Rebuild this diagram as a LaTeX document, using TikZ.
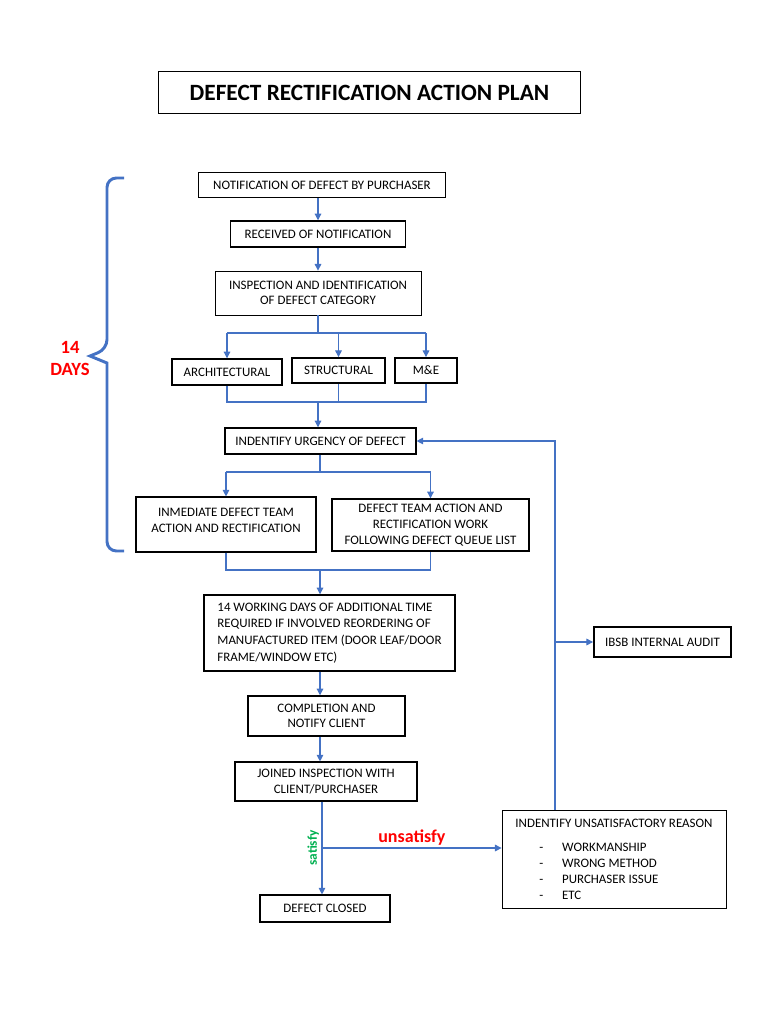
\documentclass[tikz,border=0pt]{standalone}
\usepackage{fontspec}
\setmainfont{Carlito}
\usetikzlibrary{arrows.meta}
\definecolor{flowblue}{HTML}{4472C4}
\definecolor{daysred}{HTML}{FF0000}
\definecolor{satgreen}{HTML}{00B050}
\begin{document}
\begin{tikzpicture}[x=0.75pt,y=-0.75pt]
	\tikzset{box/.style={shape=rectangle,draw=black,line width=0.6pt,inner sep=2pt,align=center,font=\fontsize{9.7}{12}\selectfont},
		thickbox/.style={box,line width=1.1pt},
		line/.style={draw=flowblue,line width=0.8pt},
		arr/.style={line,-{Triangle[width=5pt,length=5pt]}}}
	\useasboundingbox (0,0) rectangle (768,1024);
	
	\node[box,minimum width=317pt,minimum height=32pt,font=\fontsize{17.5}{20}\selectfont\bfseries] (title) at (369.5,92.5) {DEFECT RECTIFICATION ACTION PLAN};
	
	\node[box,minimum width=185pt,minimum height=19pt] (notif) at (322,185) {NOTIFICATION OF DEFECT BY PURCHASER};
	\node[thickbox,minimum width=131pt,minimum height=19.5pt] (recv) at (318,234) {RECEIVED OF NOTIFICATION};
	\node[box,minimum width=154.5pt,minimum height=33pt,font=\fontsize{9.7}{11.3}\selectfont] (insp) at (318,293) {INSPECTION AND IDENTIFICATION\\OF DEFECT CATEGORY};
	\node[thickbox,minimum width=82.5pt,minimum height=19.5pt] (arch) at (227,372) {ARCHITECTURAL};
	\node[thickbox,minimum width=70pt,minimum height=19pt] (struct) at (338.5,370.5) {STRUCTURAL};
	\node[thickbox,minimum width=46.5pt,minimum height=19pt] (mne) at (426,370.5) {M\&E};
	\node[thickbox,minimum width=143pt,minimum height=19.5pt] (urg) at (320.5,441) {INDENTIFY URGENCY OF DEFECT};
	\node[thickbox,minimum width=135pt,minimum height=41pt] (imm) at (226,524.5) {INMEDIATE DEFECT TEAM\\ACTION AND RECTIFICATION\\[-6pt]};
	\node[thickbox,minimum width=148pt,minimum height=39pt] (team) at (430.5,525) {DEFECT TEAM ACTION AND\\RECTIFICATION WORK\\FOLLOWING DEFECT QUEUE LIST};
	\node[thickbox,minimum width=188pt,minimum height=57pt,align=left,font=\fontsize{9.7}{12.6}\selectfont] (work) at (329.5,633) {14 WORKING DAYS OF ADDITIONAL TIME\\REQUIRED IF INVOLVED REORDERING OF\\MANUFACTURED ITEM (DOOR LEAF/DOOR\\FRAME/WINDOW ETC)};
	\node[thickbox,minimum width=118pt,minimum height=30pt,font=\fontsize{9.7}{11.3}\selectfont] (comp) at (326.5,716) {COMPLETION AND\\NOTIFY CLIENT};
	\node[thickbox,minimum width=136.5pt,minimum height=29pt] (join) at (326,781.5) {JOINED INSPECTION WITH\\CLIENT/PURCHASER};
	\node[thickbox,minimum width=97.5pt,minimum height=20pt] (closed) at (325,908.5) {DEFECT CLOSED};
	\node[box,minimum width=168pt,minimum height=73.5pt,align=left] (reason) at (614,859) {INDENTIFY UNSATISFACTORY REASON\\[6pt]
		\makebox[35pt][l]{\hspace*{18pt}-}WORKMANSHIP\\
		\makebox[35pt][l]{\hspace*{18pt}-}WRONG METHOD\\
		\makebox[35pt][l]{\hspace*{18pt}-}PURCHASER ISSUE\\
		\makebox[35pt][l]{\hspace*{18pt}-}ETC};
	\node[thickbox,minimum width=103pt,minimum height=22.5pt] (audit) at (662.5,642) {IBSB INTERNAL AUDIT};
	
	\node[text=daysred,font=\fontsize{14}{16.5}\selectfont\bfseries,align=center] (days) at (70,358) {14\\DAYS};
	\coordinate (bt) at (124,178);
	\coordinate (bb) at (124,551);
	\draw[flowblue,line width=2.2pt,rounded corners=7pt] (bt) -- (107,178) -- (107,349) [sharp corners] -- (90,356) -- (107,363) [rounded corners=7pt] -- (107,551) -- (bb);
	
	\draw[arr] (notif.south -| recv) -- (recv);
	\draw[arr] (recv) -- (insp);
	
	\coordinate (b1) at (318,333);
	\draw[line] (insp) -- (b1);
	\draw[line] (b1 -| arch) -- (b1 -| mne);
	\draw[arr] (b1 -| arch) -- (arch);
	\draw[arr] (b1 -| struct) -- (struct);
	\draw[arr] (b1 -| mne) -- (mne);
	
	\coordinate (m1) at (318,402);
	\draw[line] (arch) |- (m1) -| (mne);
	\draw[line] (struct) -- (struct |- m1);
	\draw[arr] (m1) -- (m1 |- urg.north);
	
	\coordinate (b2) at (320,472);
	\draw[line] (urg.south -| b2) -- (b2);
	\draw[line] (b2 -| imm) -- (b2 -| team);
	\draw[arr] (b2 -| imm) -- (imm);
	\draw[arr] (b2 -| team) -- (team);
	
	\coordinate (m2) at (320,570);
	\draw[line] (imm) |- (m2) -| (team);
	\draw[arr] (m2) -- (m2 |- work.north);
	\draw[arr] (work.south -| m2) -- (comp.north -| m2);
	\draw[arr] (comp.south -| m2) -- (join.north -| m2);
	
	\coordinate (sp) at (322,848);
	\draw[line] (join.south -| sp) -- (sp);
	\draw[arr] (sp) -- (sp |- closed.north);
	\draw[arr] (sp) -- (sp -| reason.west) node[midway,above,inner sep=1.5pt,text=daysred,font=\fontsize{13.5}{15}\selectfont\bfseries] (unsat) {unsatisfy};
	\node[rotate=90,anchor=south,inner sep=2pt,text=satgreen,font=\fontsize{10}{12}\selectfont\bfseries] (sat) at (sp) {satisfy};
	
	\coordinate (fb) at (555,810);
	\draw[arr] (reason.north -| fb) |- (urg.east);
	\draw[arr] (fb |- audit.west) -- (audit.west);
\end{tikzpicture}
\end{document}
